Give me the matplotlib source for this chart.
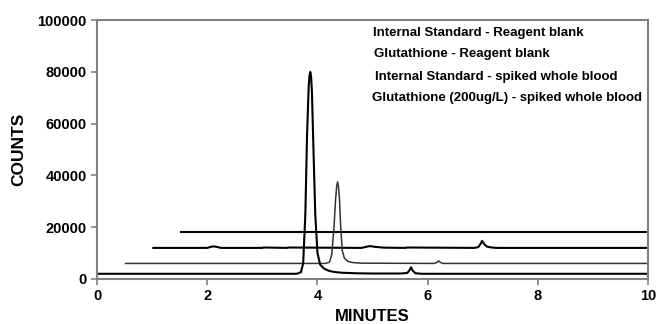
import matplotlib
matplotlib.use("Agg")
import matplotlib.pyplot as plt

plt.rcParams['font.family'] = ['Liberation Sans', 'DejaVu Sans']
plt.rcParams['font.weight'] = 'bold'

labels = ["Internal Standard - Reagent blank",
          "Glutathione - Reagent blank",
          "Internal Standard - spiked whole blood",
          "Glutathione (200ug/L) - spiked whole blood"]

# top trace: flat
is_blank_t = [1.5, 10.0]
is_blank_c = [18000, 18000]

# second trace: small bumps
gsh_blank_t = [1.0, 2.0, 2.06, 2.11, 2.17, 2.25, 3.0, 3.02, 3.45, 3.47,
               4.8, 4.88, 4.95, 5.05, 5.2, 5.6, 5.62, 6.85, 6.92, 6.96,
               6.99, 7.03, 7.08, 7.15, 7.25, 10.0]
gsh_blank_c = [12000, 12000, 12400, 12600, 12400, 12000, 12000, 12150, 12000, 12150,
               12000, 12400, 12700, 12400, 12100, 12000, 12150, 12000, 12300, 13500,
               14700, 13400, 12500, 12200, 12000, 12000]

# third trace: internal standard peak
is_blood_t = [0.5, 4.15, 4.22, 4.26, 4.30, 4.33, 4.35, 4.365, 4.38, 4.40,
              4.42, 4.45, 4.49, 4.55, 4.65, 4.8, 6.12, 6.17, 6.20, 6.23,
              6.28, 10.0]
is_blood_c = [6000, 6000, 6500, 9500, 20000, 31000, 36000, 37500, 36000, 31000,
              21000, 11000, 8000, 6800, 6300, 6100, 6000, 6400, 7000, 6400,
              6000, 6000]

# bottom trace: glutathione peak
gsh_blood_t = [0.0, 3.62, 3.70, 3.74, 3.78, 3.81, 3.84, 3.855, 3.87, 3.885,
               3.90, 3.93, 3.96, 4.00, 4.05, 4.12, 4.20, 4.30, 4.45, 4.7,
               5.0, 5.5, 5.63, 5.67, 5.70, 5.73, 5.78, 5.9, 10.0]
gsh_blood_c = [2000, 2000, 2600, 6000, 25000, 55000, 74000, 78500, 80000, 78000,
               72000, 48000, 25000, 10000, 5500, 4000, 3200, 2700, 2400, 2200,
               2100, 2100, 2300, 3300, 4500, 3200, 2200, 2000, 2000]

fig = plt.figure(figsize=(6.57, 3.24), dpi=100)
ax = fig.add_axes([0.148, 0.139, 0.838, 0.799])

style = dict(solid_joinstyle="round", solid_capstyle="butt")
ax.plot(is_blank_t, is_blank_c, color="black", lw=1.5, **style)
ax.plot(gsh_blank_t, gsh_blank_c, color="black", lw=1.5, **style)
ax.plot(is_blood_t, is_blood_c, color="#333333", lw=1.1, **style)
ax.plot(gsh_blood_t, gsh_blood_c, color="black", lw=1.5, **style)

ax.set_xlim(0, 10)
ax.set_ylim(0, 100000)
ax.set_xticks([0, 2, 4, 6, 8, 10])
ax.set_yticks([0, 20000, 40000, 60000, 80000, 100000])
ax.tick_params(direction="out", length=4, width=1.2, color="#808080",
               labelsize=10.5)
for s in ax.spines.values():
    s.set_color("#808080")
    s.set_linewidth(1.5)

ax.set_xlabel("MINUTES", fontsize=12, fontweight="bold", labelpad=4)
ax.set_ylabel("COUNTS", fontsize=12.5, fontweight="bold", labelpad=8)

ys = [33, 54, 77, 98]
xs = [373, 374, 375, 372]
for lab, xp, yp in zip(labels, xs, ys):
    fig.text(xp / 657, 1 - yp / 324, lab, fontsize=9.5, fontweight="bold",
             ha="left", va="center")

fig.savefig("out.png", dpi=100)
plt.close(fig)
